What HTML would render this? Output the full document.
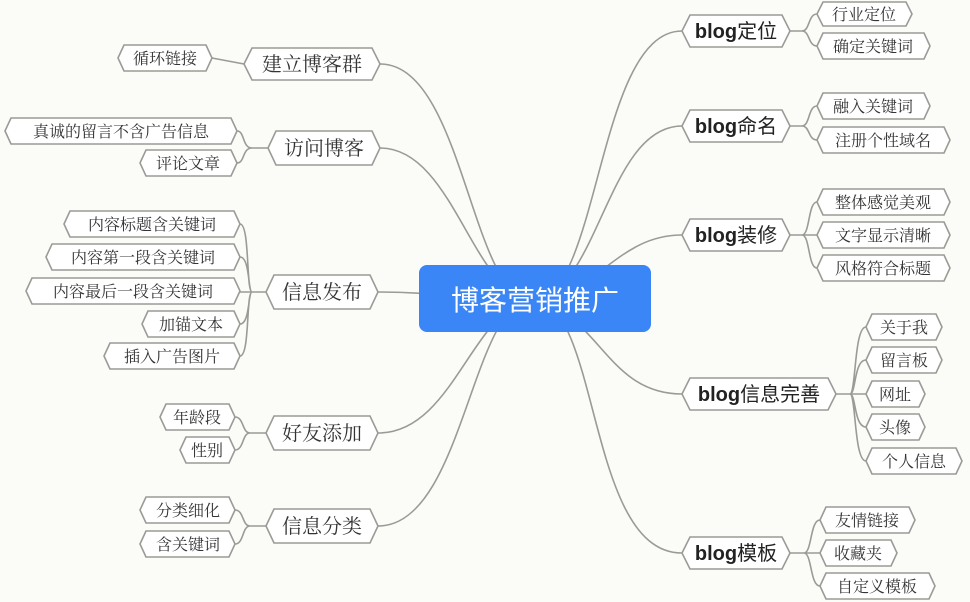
<!DOCTYPE html>
<html><head><meta charset="utf-8"><style>
html,body{margin:0;padding:0;background:#fbfbf7;}
svg{display:block;}
.b{fill:#fff;stroke:#9a9a96;stroke-width:1.6;}
.l{fill:none;stroke:#9a9a96;stroke-width:1.6;}
.m{font-family:"Noto Serif CJK SC","Liberation Serif",serif;font-size:20px;fill:#333;}
.s{font-family:"Noto Serif CJK SC","Liberation Serif",serif;font-size:16px;fill:#333;}
.g{font-family:"Liberation Sans",sans-serif;font-weight:bold;}
.r{font-family:"Liberation Sans","Noto Sans CJK SC",sans-serif;font-size:20px;fill:#222;}
</style></head><body>
<svg width="970" height="602" viewBox="0 0 970 602" xmlns="http://www.w3.org/2000/svg">
<!-- center connectors -->
<g class="l">
<path d="M525 300 C470 280 460 64 380 64"/>
<path d="M525 300 C470 280 450 148 380 148"/>
<path d="M525 300 C470 300 440 292 378 292"/>
<path d="M525 300 C470 320 450 433 378 433"/>
<path d="M525 300 C470 320 460 526 378 526"/>
<path d="M540 300 C600 280 600 31 682 31"/>
<path d="M540 300 C600 280 610 126 682 126"/>
<path d="M540 300 C600 290 620 235 682 235"/>
<path d="M540 300 C600 320 610 394 682 394"/>
<path d="M540 300 C600 320 590 553 682 553"/>
<!-- left leaf brackets -->
<path d="M244 64 L212 58"/>
<path d="M268 148 L252 148 C242 148 245 131 237 131 M252 148 C242 148 245 163 237 163"/>
<path d="M266 292 L252 292 M252 292 C246 292 250 224 240 224 M252 292 C248 292 250 257 240 257 M252 292 L240 292 M252 292 C248 292 250 324 240 324 M252 292 C246 292 250 356 240 356"/>
<path d="M266 433 L250 433 C242 433 244 417 235 417 M250 433 C242 433 244 450 235 450"/>
<path d="M266 526 L250 526 C242 526 244 510 235 510 M250 526 C242 526 244 544 235 544"/>
<!-- right leaf brackets -->
<path d="M790 31 L802 31 C810 31 808 14 817 14 M802 31 C810 31 808 46 817 46"/>
<path d="M790 126 L802 126 C810 126 808 106 817 106 M802 126 C810 126 808 140 817 140"/>
<path d="M790 235 L802 235 C810 235 808 202 817 202 M802 235 L817 235 M802 235 C810 235 808 268 817 268"/>
<path d="M836 394 L850 394 M850 394 C856 394 854 327 866 327 M850 394 C856 394 854 360 866 360 M850 394 L866 394 M850 394 C856 394 854 427 866 427 M850 394 C856 394 854 461 866 461"/>
<path d="M790 553 L804 553 C812 553 810 520 820 520 M804 553 L820 553 M804 553 C812 553 810 586 820 586"/>
</g>
<!-- center -->
<rect x="419" y="265" width="232" height="67" rx="8" fill="#3a86f6"/>
<text x="535" y="310" text-anchor="middle" font-family="'Noto Sans CJK SC',sans-serif" font-size="28" fill="#fff">博客营销推广</text>
<!-- left main -->
<g>
<polygon class="b" points="244,64 252,48 372,48 380,64 372,80 252,80"/><text class="m" x="312" y="71" text-anchor="middle">建立博客群</text>
<polygon class="b" points="268,148 276,131 372,131 380,148 372,165 276,165"/><text class="m" x="324" y="155" text-anchor="middle">访问博客</text>
<polygon class="b" points="266,292 274,275 370,275 378,292 370,309 274,309"/><text class="m" x="322" y="299" text-anchor="middle">信息发布</text>
<polygon class="b" points="266,433 274,416 370,416 378,433 370,450 274,450"/><text class="m" x="322" y="440" text-anchor="middle">好友添加</text>
<polygon class="b" points="266,526 274,509 370,509 378,526 370,543 274,543"/><text class="m" x="322" y="533" text-anchor="middle">信息分类</text>
</g>
<!-- left leaves -->
<g>
<polygon class="b" points="118,58 124,45 206,45 212,58 206,71 124,71"/><text class="s" x="165" y="64" text-anchor="middle">循环链接</text>
<polygon class="b" points="5,131 11,118 231,118 237,131 231,144 11,144"/><text class="s" x="121" y="137" text-anchor="middle">真诚的留言不含广告信息</text>
<polygon class="b" points="140,163 146,150 231,150 237,163 231,176 146,176"/><text class="s" x="188" y="169" text-anchor="middle">评论文章</text>
<polygon class="b" points="64,224 70,211 234,211 240,224 234,237 70,237"/><text class="s" x="152" y="230" text-anchor="middle">内容标题含关键词</text>
<polygon class="b" points="46,257 52,244 234,244 240,257 234,270 52,270"/><text class="s" x="143" y="263" text-anchor="middle">内容第一段含关键词</text>
<polygon class="b" points="26,291 32,278 234,278 240,291 234,304 32,304"/><text class="s" x="133" y="297" text-anchor="middle">内容最后一段含关键词</text>
<polygon class="b" points="142,324 148,311 234,311 240,324 234,337 148,337"/><text class="s" x="191" y="330" text-anchor="middle">加锚文本</text>
<polygon class="b" points="104,356 110,343 234,343 240,356 234,369 110,369"/><text class="s" x="172" y="362" text-anchor="middle">插入广告图片</text>
<polygon class="b" points="160,417 166,404 229,404 235,417 229,430 166,430"/><text class="s" x="197" y="423" text-anchor="middle">年龄段</text>
<polygon class="b" points="180,450 186,437 229,437 235,450 229,463 186,463"/><text class="s" x="207" y="456" text-anchor="middle">性别</text>
<polygon class="b" points="140,510 146,497 229,497 235,510 229,523 146,523"/><text class="s" x="188" y="516" text-anchor="middle">分类细化</text>
<polygon class="b" points="140,544 146,531 229,531 235,544 229,557 146,557"/><text class="s" x="188" y="550" text-anchor="middle">含关键词</text>
</g>
<!-- right main -->
<g>
<polygon class="b" points="682,31 690,15 782,15 790,31 782,47 690,47"/><text class="r" x="736" y="38" text-anchor="middle"><tspan class="g">blog</tspan>定位</text>
<polygon class="b" points="682,126 690,110 782,110 790,126 782,142 690,142"/><text class="r" x="736" y="133" text-anchor="middle"><tspan class="g">blog</tspan>命名</text>
<polygon class="b" points="682,235 690,219 782,219 790,235 782,251 690,251"/><text class="r" x="736" y="242" text-anchor="middle"><tspan class="g">blog</tspan>装修</text>
<polygon class="b" points="682,394 690,378 828,378 836,394 828,410 690,410"/><text class="r" x="759" y="401" text-anchor="middle"><tspan class="g">blog</tspan>信息完善</text>
<polygon class="b" points="682,553 690,537 782,537 790,553 782,569 690,569"/><text class="r" x="736" y="560" text-anchor="middle"><tspan class="g">blog</tspan>模板</text>
</g>
<!-- right leaves -->
<g>
<polygon class="b" points="817,14 823,2 906,2 912,14 906,26 823,26"/><text class="s" x="864" y="20" text-anchor="middle">行业定位</text>
<polygon class="b" points="817,46 823,33 924,33 930,46 924,59 823,59"/><text class="s" x="873" y="52" text-anchor="middle">确定关键词</text>
<polygon class="b" points="817,106 823,93 924,93 930,106 924,119 823,119"/><text class="s" x="873" y="112" text-anchor="middle">融入关键词</text>
<polygon class="b" points="817,140 823,127 944,127 950,140 944,153 823,153"/><text class="s" x="883" y="146" text-anchor="middle">注册个性域名</text>
<polygon class="b" points="817,202 823,189 944,189 950,202 944,215 823,215"/><text class="s" x="883" y="208" text-anchor="middle">整体感觉美观</text>
<polygon class="b" points="817,235 823,222 944,222 950,235 944,248 823,248"/><text class="s" x="883" y="241" text-anchor="middle">文字显示清晰</text>
<polygon class="b" points="817,268 823,255 944,255 950,268 944,281 823,281"/><text class="s" x="883" y="274" text-anchor="middle">风格符合标题</text>
<polygon class="b" points="866,327 872,314 936,314 942,327 936,340 872,340"/><text class="s" x="904" y="333" text-anchor="middle">关于我</text>
<polygon class="b" points="866,360 872,347 936,347 942,360 936,373 872,373"/><text class="s" x="904" y="366" text-anchor="middle">留言板</text>
<polygon class="b" points="866,394 872,381 919,381 925,394 919,407 872,407"/><text class="s" x="895" y="400" text-anchor="middle">网址</text>
<polygon class="b" points="866,427 872,414 919,414 925,427 919,440 872,440"/><text class="s" x="895" y="433" text-anchor="middle">头像</text>
<polygon class="b" points="866,461 872,448 956,448 962,461 956,474 872,474"/><text class="s" x="914" y="467" text-anchor="middle">个人信息</text>
<polygon class="b" points="820,520 826,507 909,507 915,520 909,533 826,533"/><text class="s" x="867" y="526" text-anchor="middle">友情链接</text>
<polygon class="b" points="820,553 826,540 891,540 897,553 891,566 826,566"/><text class="s" x="858" y="559" text-anchor="middle">收藏夹</text>
<polygon class="b" points="820,586 826,573 929,573 935,586 929,599 826,599"/><text class="s" x="877" y="592" text-anchor="middle">自定义模板</text>
</g>
</svg>
</body></html>
